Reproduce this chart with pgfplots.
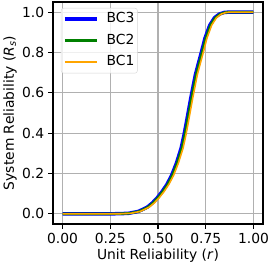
\documentclass[border=0pt]{standalone}
\usepackage{fontspec}
\setmainfont{DejaVu Sans}
\usepackage{pgfplots}
\pgfplotsset{compat=1.18}
\definecolor{mplorange}{HTML}{FFA500}
\definecolor{mplgreen}{HTML}{008000}
\definecolor{mplblue}{HTML}{0000FF}
\definecolor{gridgray}{HTML}{B0B0B0}
\definecolor{legframe}{HTML}{D6D6D6}
\begin{document}
\begin{tikzpicture}[font=\fontsize{13.9}{16.7}\selectfont]
\useasboundingbox (-53bp,-43bp) rectangle (217bp,224bp);
\begin{axis}[
  scale only axis,
  width=210bp, height=222bp,
  xmin=-0.05, xmax=1.05, ymin=-0.05, ymax=1.05,
  xtick={0,0.25,0.5,0.75,1},
  xticklabels={0.00,0.25,0.50,0.75,1.00},
  ytick={0,0.2,0.4,0.6,0.8,1.0},
  yticklabels={0.0,0.2,0.4,0.6,0.8,1.0},
  tick align=outside,
  xtick pos=bottom, ytick pos=left,
  major tick length=4.9bp,
  every tick/.style={black, line width=1.1bp},
  axis line style={line width=1.1bp},
  grid=major,
  major grid style={gridgray, line width=1.1bp},
  xticklabel style={yshift=-0.5bp},
  yticklabel style={xshift=-0.5bp},
  every axis x label/.style={at={(axis description cs:0.5,0)}, anchor=center, yshift=-32bp},
  every axis y label/.style={at={(axis description cs:-0.205,0.5)}, rotate=90, anchor=center},
  xlabel={Unit Reliability (\textit{r})},
  ylabel={System Reliability (\textit{R}\textsubscript{\textit{s}})},
  legend cell align=left,
  legend image code/.code={\draw[#1] (0bp,0bp) -- (32bp,0bp);},
  legend style={at={(axis description cs:0.038,0.973)}, anchor=north west,
    draw=legframe, rounded corners=2.5bp, fill=white, fill opacity=0.8, text opacity=1,
    inner xsep=2bp, inner ysep=3.5bp, row sep=6.5bp,
    nodes={inner sep=1bp, text height=10bp, text depth=3bp},
    /tikz/every odd column/.append style={column sep=7bp},
    /tikz/every even column/.append style={inner xsep=2.5bp},
    font=\fontsize{13.9}{16.7}\selectfont},
]
\addplot[draw=mplblue, line width=3.5bp, line join=round] coordinates {
(0,0) (0.1,0) (0.2,0) (0.296,0.001) (0.346,0.003) (0.396,0.012) (0.426,0.025) (0.446,0.035)
(0.471,0.055) (0.496,0.08) (0.521,0.11) (0.546,0.145) (0.571,0.19) (0.596,0.25)
(0.621,0.325) (0.636,0.39) (0.646,0.44) (0.671,0.57) (0.696,0.69) (0.710,0.74)
(0.727,0.8) (0.746,0.87) (0.771,0.935) (0.796,0.972) (0.821,0.99) (0.846,0.998)
(0.871,1.0) (0.9,1.0) (1,1.0)
};
\addlegendentry{BC3}
\addplot[draw=mplgreen, line width=2.4bp, line join=round] coordinates {
(0,0) (0.1,0) (0.2,0) (0.3,0.001) (0.35,0.003) (0.4,0.012) (0.43,0.025) (0.45,0.035)
(0.475,0.055) (0.5,0.08) (0.525,0.11) (0.55,0.145) (0.575,0.19) (0.6,0.25)
(0.625,0.325) (0.64,0.39) (0.65,0.44) (0.675,0.57) (0.7,0.69) (0.714,0.74)
(0.731,0.8) (0.75,0.87) (0.775,0.935) (0.8,0.972) (0.825,0.99) (0.85,0.998)
(0.875,1.0) (0.9,1.0) (1,1.0)
};
\addlegendentry{BC2}
\addplot[draw=mplorange, line width=1.6bp, line join=round] coordinates {
(0,0) (0.1,0) (0.2,0) (0.306,0.001) (0.356,0.003) (0.406,0.012) (0.436,0.025) (0.456,0.035)
(0.481,0.055) (0.506,0.08) (0.531,0.11) (0.556,0.145) (0.581,0.19) (0.606,0.25)
(0.631,0.325) (0.646,0.39) (0.656,0.44) (0.681,0.57) (0.706,0.69) (0.720,0.74)
(0.737,0.8) (0.756,0.87) (0.781,0.935) (0.806,0.972) (0.831,0.99) (0.856,0.998)
(0.881,1.0) (0.9,1.0) (1,1.0)
};
\addlegendentry{BC1}
\end{axis}
\end{tikzpicture}
\end{document}
